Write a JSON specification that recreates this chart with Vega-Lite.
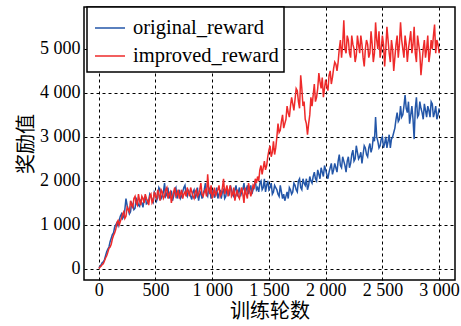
{
  "$schema": "https://vega.github.io/schema/vega-lite/v6.json",
  "width": 371,
  "height": 273,
  "autosize": {"type": "none"},
  "padding": {"left": 84, "top": 7, "right": 6, "bottom": 46},
  "background": "white",
  "config": {
    "view": {"stroke": "black", "strokeWidth": 1.5},
    "font": "Liberation Serif"
  },
  "data": {
    "values": [
      {"epoch":0,"original_reward":30,"improved_reward":10},
      {"epoch":20,"original_reward":90,"improved_reward":60},
      {"epoch":40,"original_reward":160,"improved_reward":120},
      {"epoch":60,"original_reward":300,"improved_reward":250},
      {"epoch":80,"original_reward":450,"improved_reward":380},
      {"epoch":100,"original_reward":620,"improved_reward":500},
      {"epoch":120,"original_reward":780,"improved_reward":680},
      {"epoch":140,"original_reward":950,"improved_reward":820},
      {"epoch":160,"original_reward":1050,"improved_reward":1050},
      {"epoch":180,"original_reward":1100,"improved_reward":1000},
      {"epoch":200,"original_reward":1250,"improved_reward":1150},
      {"epoch":220,"original_reward":1200,"improved_reward":1300},
      {"epoch":240,"original_reward":1600,"improved_reward":1200},
      {"epoch":260,"original_reward":1350,"improved_reward":1350},
      {"epoch":280,"original_reward":1300,"improved_reward":1550},
      {"epoch":300,"original_reward":1450,"improved_reward":1400},
      {"epoch":320,"original_reward":1380,"improved_reward":1650},
      {"epoch":340,"original_reward":1550,"improved_reward":1450},
      {"epoch":360,"original_reward":1420,"improved_reward":1550},
      {"epoch":380,"original_reward":1500,"improved_reward":1650},
      {"epoch":400,"original_reward":1600,"improved_reward":1500},
      {"epoch":420,"original_reward":1480,"improved_reward":1600},
      {"epoch":440,"original_reward":1550,"improved_reward":1450},
      {"epoch":460,"original_reward":1650,"improved_reward":1700},
      {"epoch":480,"original_reward":1520,"improved_reward":1550},
      {"epoch":500,"original_reward":1700,"improved_reward":1650},
      {"epoch":520,"original_reward":1620,"improved_reward":1800},
      {"epoch":540,"original_reward":1800,"improved_reward":1550},
      {"epoch":560,"original_reward":1650,"improved_reward":1750},
      {"epoch":580,"original_reward":1950,"improved_reward":1650},
      {"epoch":600,"original_reward":1700,"improved_reward":1850},
      {"epoch":620,"original_reward":1600,"improved_reward":1700},
      {"epoch":640,"original_reward":1780,"improved_reward":1500},
      {"epoch":660,"original_reward":1650,"improved_reward":1750},
      {"epoch":680,"original_reward":1850,"improved_reward":1650},
      {"epoch":700,"original_reward":1700,"improved_reward":1800},
      {"epoch":720,"original_reward":1600,"improved_reward":1700},
      {"epoch":740,"original_reward":1750,"improved_reward":1600},
      {"epoch":760,"original_reward":1900,"improved_reward":1750},
      {"epoch":780,"original_reward":1650,"improved_reward":1850},
      {"epoch":800,"original_reward":1720,"improved_reward":1650},
      {"epoch":820,"original_reward":1580,"improved_reward":1750},
      {"epoch":840,"original_reward":1800,"improved_reward":1600},
      {"epoch":860,"original_reward":1680,"improved_reward":1800},
      {"epoch":880,"original_reward":1550,"improved_reward":1700},
      {"epoch":900,"original_reward":1750,"improved_reward":1950},
      {"epoch":920,"original_reward":1700,"improved_reward":1650},
      {"epoch":940,"original_reward":1950,"improved_reward":1800},
      {"epoch":960,"original_reward":1650,"improved_reward":2150},
      {"epoch":980,"original_reward":1800,"improved_reward":1700},
      {"epoch":1000,"original_reward":1700,"improved_reward":1600},
      {"epoch":1020,"original_reward":1620,"improved_reward":1850},
      {"epoch":1040,"original_reward":1850,"improved_reward":1750},
      {"epoch":1060,"original_reward":1700,"improved_reward":1900},
      {"epoch":1080,"original_reward":1600,"improved_reward":1700},
      {"epoch":1100,"original_reward":1800,"improved_reward":2050},
      {"epoch":1120,"original_reward":1650,"improved_reward":1800},
      {"epoch":1140,"original_reward":1750,"improved_reward":1650},
      {"epoch":1160,"original_reward":1900,"improved_reward":1900},
      {"epoch":1180,"original_reward":1700,"improved_reward":1700},
      {"epoch":1200,"original_reward":1800,"improved_reward":1550},
      {"epoch":1220,"original_reward":1650,"improved_reward":1800},
      {"epoch":1240,"original_reward":1850,"improved_reward":1600},
      {"epoch":1260,"original_reward":1750,"improved_reward":1850},
      {"epoch":1280,"original_reward":1950,"improved_reward":1500},
      {"epoch":1300,"original_reward":1800,"improved_reward":1700},
      {"epoch":1320,"original_reward":1700,"improved_reward":1950},
      {"epoch":1340,"original_reward":1900,"improved_reward":1650},
      {"epoch":1360,"original_reward":1800,"improved_reward":1900},
      {"epoch":1380,"original_reward":2000,"improved_reward":2050},
      {"epoch":1400,"original_reward":1850,"improved_reward":2100},
      {"epoch":1420,"original_reward":1950,"improved_reward":2250},
      {"epoch":1440,"original_reward":1800,"improved_reward":2150},
      {"epoch":1460,"original_reward":2050,"improved_reward":2450},
      {"epoch":1480,"original_reward":1900,"improved_reward":2350},
      {"epoch":1500,"original_reward":1800,"improved_reward":2700},
      {"epoch":1520,"original_reward":1950,"improved_reward":2550},
      {"epoch":1540,"original_reward":1750,"improved_reward":2900},
      {"epoch":1560,"original_reward":1850,"improved_reward":2750},
      {"epoch":1580,"original_reward":1700,"improved_reward":3300},
      {"epoch":1600,"original_reward":1900,"improved_reward":3150},
      {"epoch":1620,"original_reward":1600,"improved_reward":3500},
      {"epoch":1640,"original_reward":1550,"improved_reward":3300},
      {"epoch":1660,"original_reward":1750,"improved_reward":3700},
      {"epoch":1680,"original_reward":1850,"improved_reward":3450},
      {"epoch":1700,"original_reward":1700,"improved_reward":3900},
      {"epoch":1720,"original_reward":1950,"improved_reward":3600},
      {"epoch":1740,"original_reward":1800,"improved_reward":4100},
      {"epoch":1760,"original_reward":2000,"improved_reward":3800},
      {"epoch":1780,"original_reward":1850,"improved_reward":4400},
      {"epoch":1800,"original_reward":2050,"improved_reward":3700},
      {"epoch":1820,"original_reward":1900,"improved_reward":3400},
      {"epoch":1840,"original_reward":1800,"improved_reward":3050},
      {"epoch":1860,"original_reward":2100,"improved_reward":3500},
      {"epoch":1880,"original_reward":1950,"improved_reward":3700},
      {"epoch":1900,"original_reward":2200,"improved_reward":4200},
      {"epoch":1920,"original_reward":2000,"improved_reward":3900},
      {"epoch":1940,"original_reward":2150,"improved_reward":4450},
      {"epoch":1960,"original_reward":2300,"improved_reward":4100},
      {"epoch":1980,"original_reward":2100,"improved_reward":3900},
      {"epoch":2000,"original_reward":2250,"improved_reward":4300},
      {"epoch":2020,"original_reward":2050,"improved_reward":4050},
      {"epoch":2040,"original_reward":2300,"improved_reward":4500},
      {"epoch":2060,"original_reward":2150,"improved_reward":4350},
      {"epoch":2080,"original_reward":2400,"improved_reward":4700},
      {"epoch":2100,"original_reward":2200,"improved_reward":4500},
      {"epoch":2120,"original_reward":2600,"improved_reward":5000},
      {"epoch":2140,"original_reward":2300,"improved_reward":4800},
      {"epoch":2160,"original_reward":2450,"improved_reward":5650},
      {"epoch":2180,"original_reward":2200,"improved_reward":4900},
      {"epoch":2200,"original_reward":2550,"improved_reward":5200},
      {"epoch":2220,"original_reward":2400,"improved_reward":4800},
      {"epoch":2240,"original_reward":2700,"improved_reward":5100},
      {"epoch":2260,"original_reward":2500,"improved_reward":4700},
      {"epoch":2280,"original_reward":2650,"improved_reward":5300},
      {"epoch":2300,"original_reward":2550,"improved_reward":4900},
      {"epoch":2320,"original_reward":2400,"improved_reward":5100},
      {"epoch":2340,"original_reward":2800,"improved_reward":4600},
      {"epoch":2360,"original_reward":2600,"improved_reward":5200},
      {"epoch":2380,"original_reward":2750,"improved_reward":4800},
      {"epoch":2400,"original_reward":2650,"improved_reward":5400},
      {"epoch":2420,"original_reward":3000,"improved_reward":4700},
      {"epoch":2440,"original_reward":3450,"improved_reward":5600},
      {"epoch":2460,"original_reward":2900,"improved_reward":5000},
      {"epoch":2480,"original_reward":2800,"improved_reward":4800},
      {"epoch":2500,"original_reward":3000,"improved_reward":5300},
      {"epoch":2520,"original_reward":2850,"improved_reward":4600},
      {"epoch":2540,"original_reward":2750,"improved_reward":5500},
      {"epoch":2560,"original_reward":3050,"improved_reward":4900},
      {"epoch":2580,"original_reward":2950,"improved_reward":5200},
      {"epoch":2600,"original_reward":3100,"improved_reward":4500},
      {"epoch":2620,"original_reward":3400,"improved_reward":5100},
      {"epoch":2640,"original_reward":3350,"improved_reward":4800},
      {"epoch":2660,"original_reward":3700,"improved_reward":5600},
      {"epoch":2680,"original_reward":3500,"improved_reward":5000},
      {"epoch":2700,"original_reward":3950,"improved_reward":5300},
      {"epoch":2720,"original_reward":3550,"improved_reward":4700},
      {"epoch":2740,"original_reward":3300,"improved_reward":5200},
      {"epoch":2760,"original_reward":3700,"improved_reward":4900},
      {"epoch":2780,"original_reward":2950,"improved_reward":5500},
      {"epoch":2800,"original_reward":3900,"improved_reward":4700},
      {"epoch":2820,"original_reward":3500,"improved_reward":5100},
      {"epoch":2840,"original_reward":3650,"improved_reward":4400},
      {"epoch":2860,"original_reward":3400,"improved_reward":5000},
      {"epoch":2880,"original_reward":3600,"improved_reward":4800},
      {"epoch":2900,"original_reward":3700,"improved_reward":5300},
      {"epoch":2920,"original_reward":3450,"improved_reward":4900},
      {"epoch":2940,"original_reward":3750,"improved_reward":5000},
      {"epoch":2960,"original_reward":3550,"improved_reward":5550},
      {"epoch":2980,"original_reward":3400,"improved_reward":5200},
      {"epoch":3000,"original_reward":3650,"improved_reward":4900},
      {"epoch":10,"original_reward":50,"improved_reward":40},
      {"epoch":30,"original_reward":140,"improved_reward":100},
      {"epoch":50,"original_reward":210,"improved_reward":180},
      {"epoch":70,"original_reward":390,"improved_reward":300},
      {"epoch":90,"original_reward":500,"improved_reward":470},
      {"epoch":110,"original_reward":700,"improved_reward":560},
      {"epoch":130,"original_reward":820,"improved_reward":760},
      {"epoch":150,"original_reward":1000,"improved_reward":900},
      {"epoch":170,"original_reward":980,"improved_reward":1100},
      {"epoch":190,"original_reward":1200,"improved_reward":1080},
      {"epoch":210,"original_reward":1150,"improved_reward":1250},
      {"epoch":230,"original_reward":1350,"improved_reward":1150},
      {"epoch":250,"original_reward":1450,"improved_reward":1400},
      {"epoch":270,"original_reward":1250,"improved_reward":1300},
      {"epoch":290,"original_reward":1500,"improved_reward":1450},
      {"epoch":310,"original_reward":1350,"improved_reward":1600},
      {"epoch":330,"original_reward":1600,"improved_reward":1500},
      {"epoch":350,"original_reward":1450,"improved_reward":1700},
      {"epoch":370,"original_reward":1550,"improved_reward":1450},
      {"epoch":390,"original_reward":1400,"improved_reward":1600},
      {"epoch":410,"original_reward":1650,"improved_reward":1700},
      {"epoch":430,"original_reward":1500,"improved_reward":1550},
      {"epoch":450,"original_reward":1700,"improved_reward":1650},
      {"epoch":470,"original_reward":1580,"improved_reward":1500},
      {"epoch":490,"original_reward":1750,"improved_reward":1750},
      {"epoch":510,"original_reward":1550,"improved_reward":1600},
      {"epoch":530,"original_reward":1850,"improved_reward":1700},
      {"epoch":550,"original_reward":1600,"improved_reward":1800},
      {"epoch":570,"original_reward":1750,"improved_reward":1600},
      {"epoch":590,"original_reward":1650,"improved_reward":1800},
      {"epoch":610,"original_reward":1850,"improved_reward":1600},
      {"epoch":630,"original_reward":1700,"improved_reward":1750},
      {"epoch":650,"original_reward":1550,"improved_reward":1650},
      {"epoch":670,"original_reward":1800,"improved_reward":1850},
      {"epoch":690,"original_reward":1600,"improved_reward":1700},
      {"epoch":710,"original_reward":1800,"improved_reward":1600},
      {"epoch":730,"original_reward":1650,"improved_reward":1800},
      {"epoch":750,"original_reward":1850,"improved_reward":1700},
      {"epoch":770,"original_reward":1700,"improved_reward":1650},
      {"epoch":790,"original_reward":1800,"improved_reward":1750},
      {"epoch":810,"original_reward":1650,"improved_reward":1850},
      {"epoch":830,"original_reward":1750,"improved_reward":1650},
      {"epoch":850,"original_reward":1600,"improved_reward":1750},
      {"epoch":870,"original_reward":1850,"improved_reward":1650},
      {"epoch":890,"original_reward":1700,"improved_reward":1800},
      {"epoch":910,"original_reward":1600,"improved_reward":1700},
      {"epoch":930,"original_reward":1800,"improved_reward":1750},
      {"epoch":950,"original_reward":1700,"improved_reward":1650},
      {"epoch":970,"original_reward":1850,"improved_reward":1800},
      {"epoch":990,"original_reward":1600,"improved_reward":1900},
      {"epoch":1010,"original_reward":1800,"improved_reward":1700},
      {"epoch":1030,"original_reward":1700,"improved_reward":1650},
      {"epoch":1050,"original_reward":1600,"improved_reward":1800},
      {"epoch":1070,"original_reward":1800,"improved_reward":1650},
      {"epoch":1090,"original_reward":1750,"improved_reward":1850},
      {"epoch":1110,"original_reward":1600,"improved_reward":1700},
      {"epoch":1130,"original_reward":1850,"improved_reward":1900},
      {"epoch":1150,"original_reward":1700,"improved_reward":1800},
      {"epoch":1170,"original_reward":1800,"improved_reward":1650},
      {"epoch":1190,"original_reward":1650,"improved_reward":1850},
      {"epoch":1210,"original_reward":1900,"improved_reward":1700},
      {"epoch":1230,"original_reward":1750,"improved_reward":1650},
      {"epoch":1250,"original_reward":1650,"improved_reward":1750},
      {"epoch":1270,"original_reward":1800,"improved_reward":1700},
      {"epoch":1290,"original_reward":1700,"improved_reward":1850},
      {"epoch":1310,"original_reward":1900,"improved_reward":1600},
      {"epoch":1330,"original_reward":1800,"improved_reward":1800},
      {"epoch":1350,"original_reward":1700,"improved_reward":1750},
      {"epoch":1370,"original_reward":1900,"improved_reward":1850},
      {"epoch":1390,"original_reward":1800,"improved_reward":1950},
      {"epoch":1410,"original_reward":1750,"improved_reward":2000},
      {"epoch":1430,"original_reward":2000,"improved_reward":2350},
      {"epoch":1450,"original_reward":1850,"improved_reward":2300},
      {"epoch":1470,"original_reward":1750,"improved_reward":2250},
      {"epoch":1490,"original_reward":2000,"improved_reward":2550},
      {"epoch":1510,"original_reward":1850,"improved_reward":2800},
      {"epoch":1530,"original_reward":1700,"improved_reward":2650},
      {"epoch":1550,"original_reward":1900,"improved_reward":2600},
      {"epoch":1570,"original_reward":1800,"improved_reward":3000},
      {"epoch":1590,"original_reward":1650,"improved_reward":3100},
      {"epoch":1610,"original_reward":1750,"improved_reward":3350},
      {"epoch":1630,"original_reward":1700,"improved_reward":3200},
      {"epoch":1650,"original_reward":1650,"improved_reward":3400},
      {"epoch":1670,"original_reward":1600,"improved_reward":3550},
      {"epoch":1690,"original_reward":1800,"improved_reward":3700},
      {"epoch":1710,"original_reward":1750,"improved_reward":3750},
      {"epoch":1730,"original_reward":1900,"improved_reward":3850},
      {"epoch":1750,"original_reward":1750,"improved_reward":4050},
      {"epoch":1770,"original_reward":2050,"improved_reward":3650},
      {"epoch":1790,"original_reward":1800,"improved_reward":4100},
      {"epoch":1810,"original_reward":1950,"improved_reward":3800},
      {"epoch":1830,"original_reward":2050,"improved_reward":3300},
      {"epoch":1850,"original_reward":1900,"improved_reward":3300},
      {"epoch":1870,"original_reward":2000,"improved_reward":3900},
      {"epoch":1890,"original_reward":2100,"improved_reward":3950},
      {"epoch":1910,"original_reward":2050,"improved_reward":3800},
      {"epoch":1930,"original_reward":2250,"improved_reward":4100},
      {"epoch":1950,"original_reward":2050,"improved_reward":4250},
      {"epoch":1970,"original_reward":2200,"improved_reward":4350},
      {"epoch":1990,"original_reward":2350,"improved_reward":4100},
      {"epoch":2010,"original_reward":2150,"improved_reward":4150},
      {"epoch":2030,"original_reward":2200,"improved_reward":4400},
      {"epoch":2050,"original_reward":2400,"improved_reward":4200},
      {"epoch":2070,"original_reward":2250,"improved_reward":4550},
      {"epoch":2090,"original_reward":2300,"improved_reward":4650},
      {"epoch":2110,"original_reward":2450,"improved_reward":4700},
      {"epoch":2130,"original_reward":2350,"improved_reward":5200},
      {"epoch":2150,"original_reward":2550,"improved_reward":5100},
      {"epoch":2170,"original_reward":2350,"improved_reward":5000},
      {"epoch":2190,"original_reward":2450,"improved_reward":5300},
      {"epoch":2210,"original_reward":2300,"improved_reward":4900},
      {"epoch":2230,"original_reward":2600,"improved_reward":5300},
      {"epoch":2250,"original_reward":2450,"improved_reward":5000},
      {"epoch":2270,"original_reward":2800,"improved_reward":4850},
      {"epoch":2290,"original_reward":2500,"improved_reward":5100},
      {"epoch":2310,"original_reward":2650,"improved_reward":5300},
      {"epoch":2330,"original_reward":2600,"improved_reward":4800},
      {"epoch":2350,"original_reward":2750,"improved_reward":5000},
      {"epoch":2370,"original_reward":2550,"improved_reward":5100},
      {"epoch":2390,"original_reward":2850,"improved_reward":4900},
      {"epoch":2410,"original_reward":2750,"improved_reward":5100},
      {"epoch":2430,"original_reward":2900,"improved_reward":4900},
      {"epoch":2450,"original_reward":3000,"improved_reward":5200},
      {"epoch":2470,"original_reward":2750,"improved_reward":5400},
      {"epoch":2490,"original_reward":2950,"improved_reward":5000},
      {"epoch":2510,"original_reward":2750,"improved_reward":5100},
      {"epoch":2530,"original_reward":3000,"improved_reward":5000},
      {"epoch":2550,"original_reward":2900,"improved_reward":5200},
      {"epoch":2570,"original_reward":2750,"improved_reward":4700},
      {"epoch":2590,"original_reward":3000,"improved_reward":5000},
      {"epoch":2610,"original_reward":3200,"improved_reward":4800},
      {"epoch":2630,"original_reward":3550,"improved_reward":5300},
      {"epoch":2650,"original_reward":3400,"improved_reward":5100},
      {"epoch":2670,"original_reward":3450,"improved_reward":5200},
      {"epoch":2690,"original_reward":3700,"improved_reward":4800},
      {"epoch":2710,"original_reward":3650,"improved_reward":5100},
      {"epoch":2730,"original_reward":3800,"improved_reward":5000},
      {"epoch":2750,"original_reward":3500,"improved_reward":5400},
      {"epoch":2770,"original_reward":3400,"improved_reward":5100},
      {"epoch":2790,"original_reward":3650,"improved_reward":4900},
      {"epoch":2810,"original_reward":3450,"improved_reward":5300},
      {"epoch":2830,"original_reward":3800,"improved_reward":4900},
      {"epoch":2850,"original_reward":3550,"improved_reward":4700},
      {"epoch":2870,"original_reward":3750,"improved_reward":5200},
      {"epoch":2890,"original_reward":3450,"improved_reward":5000},
      {"epoch":2910,"original_reward":3600,"improved_reward":4700},
      {"epoch":2930,"original_reward":3800,"improved_reward":5200},
      {"epoch":2950,"original_reward":3450,"improved_reward":5300},
      {"epoch":2970,"original_reward":3700,"improved_reward":4900},
      {"epoch":2990,"original_reward":3500,"improved_reward":5100}
    ]
  },
  "encoding": {
    "x": {
      "field": "epoch", "type": "quantitative",
      "scale": {"domain": [-130, 3140], "nice": false, "zero": false},
      "axis": {
        "title": "训练轮数", "titleFont": "Noto Sans CJK SC", "titleFontSize": 20, "titleFontWeight": "normal", "titleColor": "black",
        "titleBaseline": "top", "titleY": 21,
        "values": [0, 500, 1000, 1500, 2000, 2500, 3000],
        "labelExpr": "replace(format(datum.value, ',d'), ',', ' ')",
        "labelFont": "Liberation Serif", "labelFontSize": 18, "labelColor": "black", "labelPadding": 1, "labelFlush": false, "labelOverlap": false,
        "ticks": false, "domain": false,
        "grid": true, "gridColor": "black", "gridOpacity": 1, "gridDash": [3, 3], "gridWidth": 1
      }
    },
    "y": {
      "field": "value", "type": "quantitative",
      "scale": {"domain": [-250, 5950], "nice": false, "zero": false},
      "axis": {
        "title": "奖励值", "titleFont": "Noto Sans CJK SC", "titleFontSize": 20, "titleFontWeight": "normal", "titleColor": "black", "titlePadding": 3,
        "values": [0, 1000, 2000, 3000, 4000, 5000],
        "labelExpr": "replace(format(datum.value, ',d'), ',', ' ')",
        "labelFont": "Liberation Serif", "labelFontSize": 18, "labelColor": "black", "labelPadding": 4, "labelFlush": false, "labelOverlap": false,
        "ticks": false, "domain": false,
        "grid": true, "gridColor": "black", "gridOpacity": 1, "gridDash": [3, 3], "gridWidth": 1
      }
    },
    "color": {
      "field": "key", "type": "nominal",
      "scale": {"domain": ["original_reward", "improved_reward"], "range": ["#2356a8", "#ee2a2a"]},
      "legend": {
        "title": null, "orient": "none", "legendX": 3, "legendY": 0,
        "symbolType": "M-1,0L1,0", "symbolSize": 900, "symbolStrokeWidth": 1.5, "symbolOffset": 2,
        "labelFont": "Liberation Serif", "labelFontSize": 20.5, "labelColor": "black",
        "fillColor": "white", "strokeColor": "black",
        "padding": 5, "rowPadding": 1, "labelOffset": 7,
        "encode": {"legend": {"update": {"strokeWidth": {"value": 1.5}}}}
      }
    }
  },
  "layer": [
    {
      "transform": [{"fold": ["original_reward"]}],
      "mark": {"type": "line", "strokeWidth": 1.5, "clip": true}
    },
    {
      "transform": [{"fold": ["improved_reward"]}],
      "mark": {"type": "line", "strokeWidth": 1.5, "clip": true}
    }
  ]
}
